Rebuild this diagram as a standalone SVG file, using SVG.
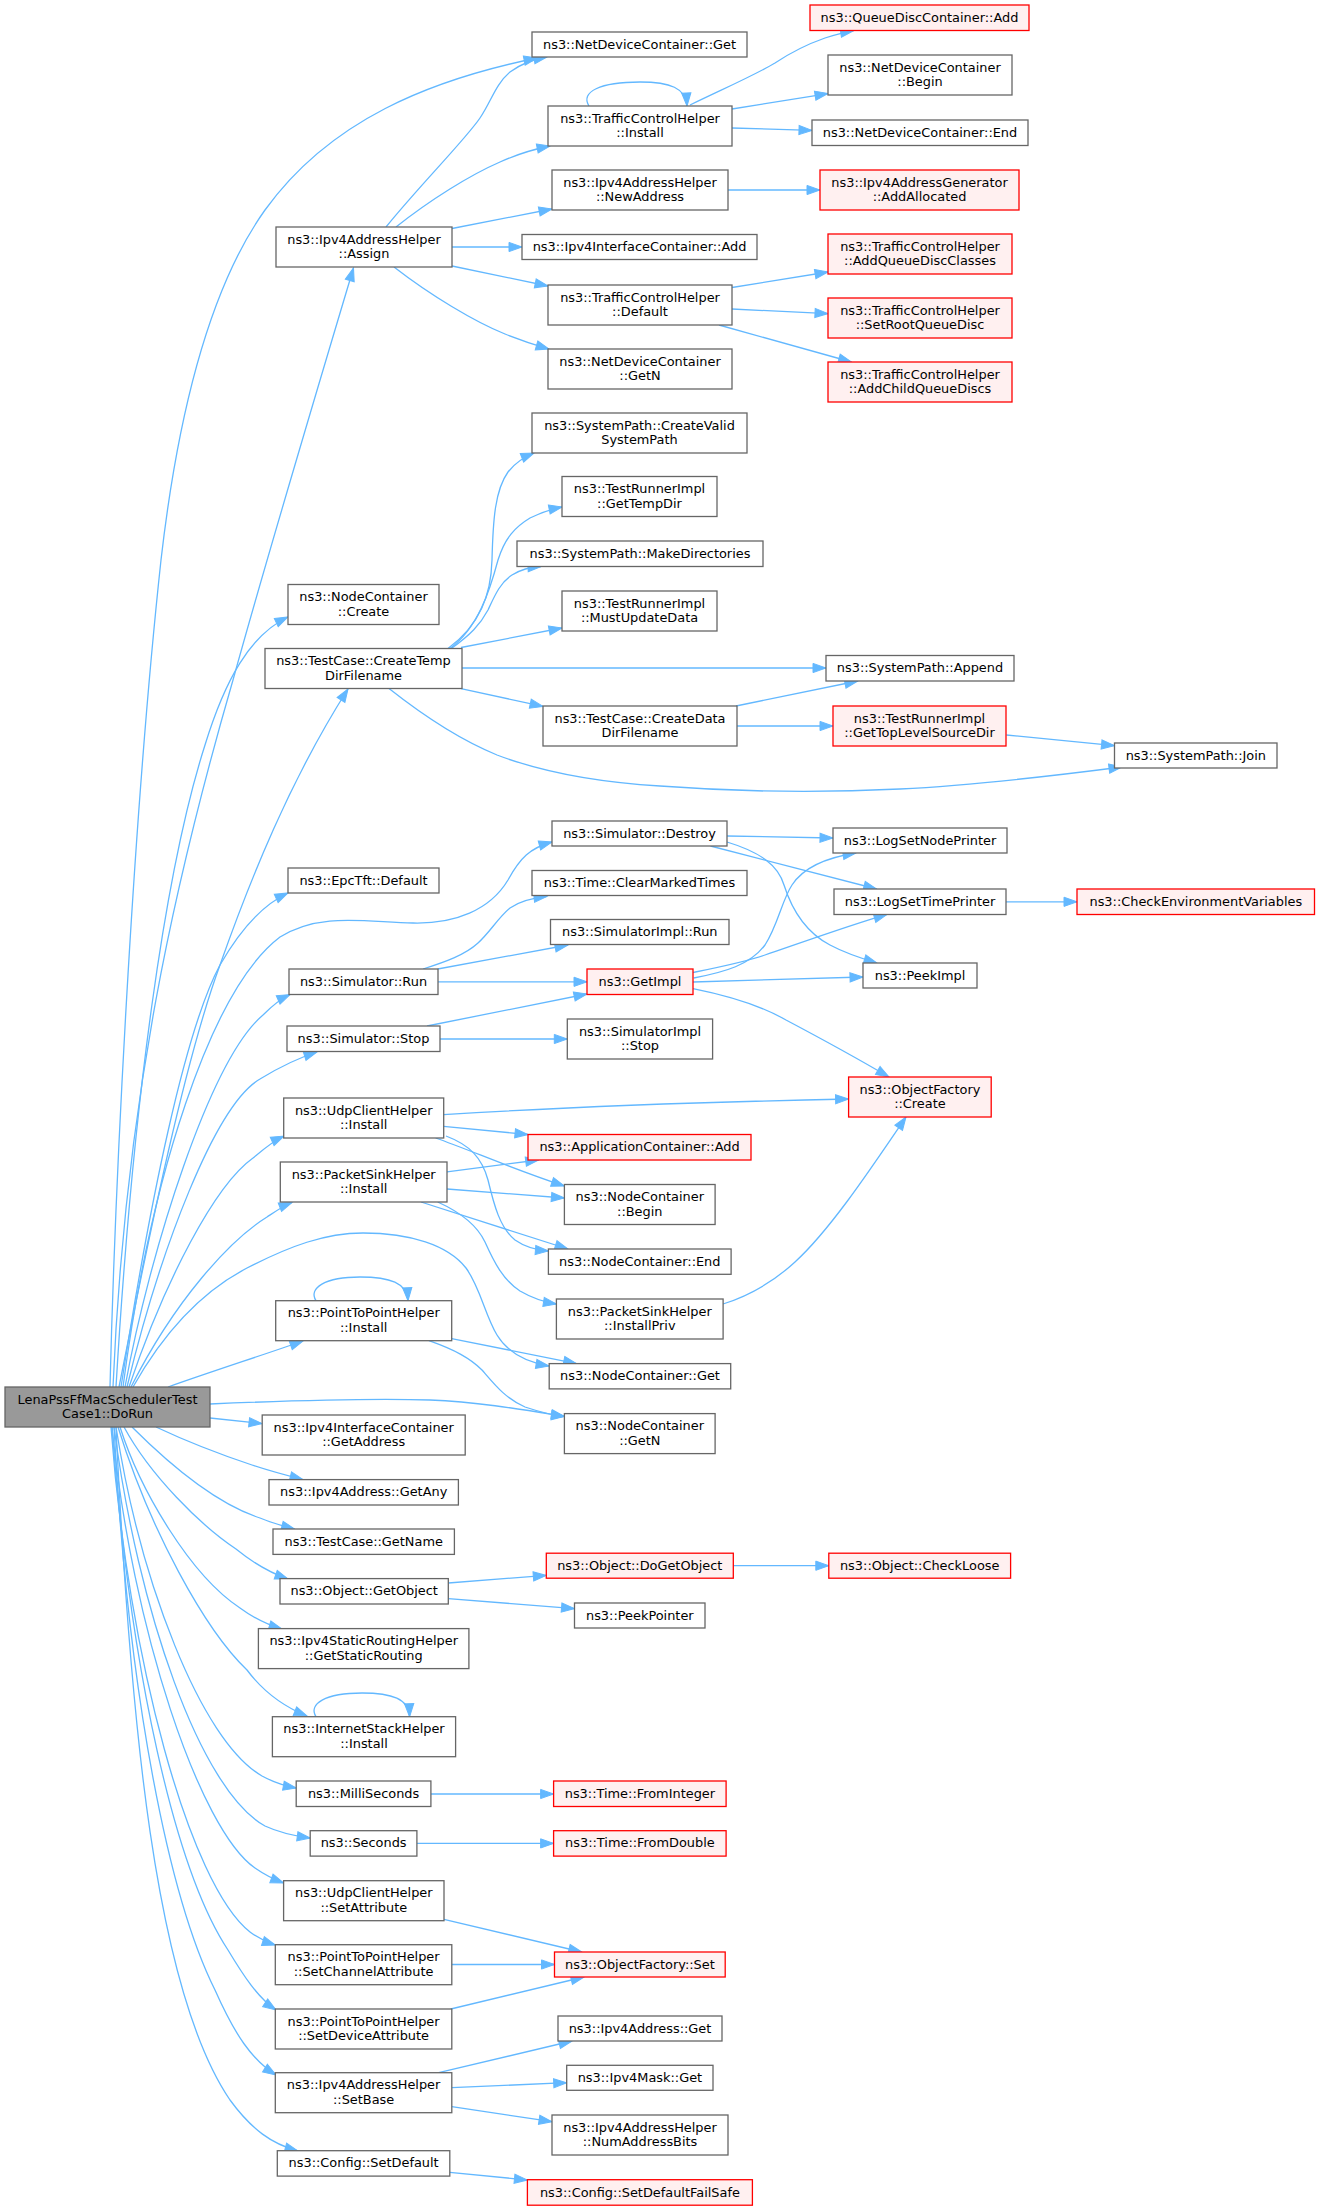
<svg xmlns="http://www.w3.org/2000/svg" width="1320" height="2211" viewBox="0 0 1320 2211">
<style>
.n rect{fill:#ffffff;stroke:#666666;stroke-width:1.3}
.r rect{fill:#fff0f0;stroke:#ff0000;stroke-width:1.3}
.m rect{fill:#999999;stroke:#666666;stroke-width:1.3}
text{font-family:"DejaVu Sans",sans-serif;font-size:12.9px;text-anchor:middle;fill:#000000}
.e path{fill:none;stroke:#63b8ff;stroke-width:1.3;marker-end:url(#a)}
</style>
<defs>
<marker id="a" markerUnits="userSpaceOnUse" markerWidth="13" markerHeight="10" refX="13" refY="5" orient="auto" overflow="visible">
<path d="M0,0.4 L13,5 L0,9.6 Z" fill="#63b8ff" stroke="#63b8ff" stroke-width="1"/>
</marker>
</defs>
<rect width="1320" height="2211" fill="#ffffff"/>
<g id="edges" class="e">
<path d="M110,1387 C116,1150 135,800 161,560 C180,395 215,280 265,210 C330,120 430,80 537,58"/>
<path d="M113,1387 C125,1100 175,880 233,680 C262,575 305,430 353.5,268"/>
<path d="M116,1387 C133,1100 165,870 205,745 C225,680 250,635 288,617"/>
<path d="M119,1387 C150,1230 185,1060 220,965 C250,880 290,780 348,689"/>
<path d="M121,1387 C150,1200 185,1030 220,965 C240,930 262,905 288,893"/>
<path d="M123,1387 C150,1180 210,990 280,937 C320,912 365,922 413,923 C455,924 490,910 508,880 C520,858 530,848 552,842"/>
<path d="M125,1387 C150,1250 210,1060 263,1015 C272,1006 280,999 290,994.5"/>
<path d="M127,1387 C160,1250 215,1105 260,1079 C283,1065 298,1058 317,1052"/>
<path d="M129,1387 C165,1280 215,1185 253,1158 C265,1148 273,1141 284,1136"/>
<path d="M131,1387 C175,1300 230,1240 267,1217 C276,1211 283,1206 292,1202.5"/>
<path d="M133,1387 C165,1330 205,1290 247,1268 C290,1246 325,1233 363,1233 C410,1233 448,1245 466,1268 C480,1287 485,1315 497,1335 C508,1353 525,1362 549,1366"/>
<path d="M168,1387 C210,1372 260,1356 303,1341"/>
<path d="M210,1404 C280,1401 370,1398 430,1400 C480,1402 525,1410 564.4,1416.4"/>
<path d="M210,1418 L262,1423.6"/>
<path d="M156,1427 C190,1443 225,1456 252,1465 C270,1471 285,1475 303,1479.6"/>
<path d="M132,1427 C175,1470 220,1505 260,1518 C272,1523 283,1526 294.6,1529"/>
<path d="M124,1427 C150,1475 200,1525 236,1549 C252,1562 268,1572 288,1579"/>
<path d="M120,1427 C140,1490 190,1575 240,1608 C255,1619 268,1625 282,1629"/>
<path d="M118,1427 C150,1530 205,1630 247,1670 C262,1690 282,1706 307,1716"/>
<path d="M116,1427 C140,1580 200,1740 262,1776 C275,1783 285,1786 296.2,1788"/>
<path d="M114,1427 C138,1610 200,1790 265,1826 C280,1833 295,1836 310.2,1838"/>
<path d="M112,1427 C132,1630 200,1830 255,1868 C265,1875 273,1879 283.6,1883"/>
<path d="M111,1427 C128,1660 190,1885 250,1932 C258,1938 266,1942 275.3,1945"/>
<path d="M112,1427 C130,1670 175,1870 228,1950 C243,1975 258,1998 276,2010"/>
<path d="M114,1427 C128,1700 170,1900 215,1990 C235,2035 252,2060 276,2075"/>
<path d="M116,1427 C130,1720 155,1990 230,2100 C252,2130 272,2144 298,2151"/>
<path d="M386,227 C420,185 465,140 480,118 C492,100 495,85 510,72 C522,63 535,59 547,57"/>
<path d="M396,227 C430,200 470,175 500,162 C520,153 535,149 550,146"/>
<path d="M452,228.5 L552,209"/>
<path d="M452,247 L522,247"/>
<path d="M452,266 L548,286"/>
<path d="M394,267 C430,295 475,322 505,334 C520,340 535,345 549,349"/>
<path d="M589,106 C580,92 600,82 640,82 C670,82 686,88 687,106"/>
<path d="M690,105 C725,88 755,75 775,63 C790,53 805,45 825,38 C835,35 845,32 853.6,30.7"/>
<path d="M732,109 L828,93.6"/>
<path d="M732,128 L812,130.4"/>
<path d="M728,190 L820,190"/>
<path d="M732,287.5 L828,272"/>
<path d="M732,309 L828,313.6"/>
<path d="M719,325 L851.5,362"/>
<path d="M448,648.6 C480,625 491,595 492,560 C493,520 495,490 508,472 C515,463 524,457 534,453"/>
<path d="M450,648.6 C478,628 490,590 498,560 C505,538 515,527 530,518 C542,512 552,509 562,507"/>
<path d="M452,648 C470,635 480,625 488,610 C495,595 500,583 512,575 C520,570 530,567 541,566.5"/>
<path d="M461,647.5 L562,628"/>
<path d="M462,668 L826,668"/>
<path d="M461,688.6 L543,706.4"/>
<path d="M389,688.6 C425,717 460,740 497,755 C550,775 610,783 660,786 C740,792 820,793 900,789 C980,785 1060,775 1122,767"/>
<path d="M736,706 L857.8,681"/>
<path d="M737,726 L833,726"/>
<path d="M1006.4,735 L1114.5,745.7"/>
<path d="M727,836 L833,838"/>
<path d="M710.5,846 L876.7,889"/>
<path d="M727,842 C760,852 778,865 784,885 C792,910 805,932 830,945 C845,953 860,958 877,963"/>
<path d="M1006,901.8 L1077,901.8"/>
<path d="M423,969 C445,962 465,955 478,943 C490,932 498,918 510,908 C520,901 532,898 547,896.4"/>
<path d="M437.7,969 L568,945"/>
<path d="M438,981.8 L587,981.8"/>
<path d="M693.7,978 C725,972 750,965 765,945 C778,925 782,900 792,885 C805,865 830,857 856,853"/>
<path d="M693,972.5 C720,967 745,962 765,955 C800,943 850,925 887,914.3"/>
<path d="M693,982 L863,977"/>
<path d="M693,988.6 C730,996 760,1005 786,1020 C820,1038 860,1060 889,1077"/>
<path d="M427,1026 L587,994"/>
<path d="M440,1039 L567.3,1039"/>
<path d="M443.6,1114.6 C550,1108 700,1102 848.6,1099"/>
<path d="M443.6,1126.4 L528,1134.5"/>
<path d="M435.6,1138 C470,1150 510,1168 564.4,1186"/>
<path d="M446,1136 C470,1145 482,1158 488,1180 C494,1205 500,1228 515,1240 C525,1247 535,1250 548.4,1251"/>
<path d="M447,1171.8 L538.7,1160"/>
<path d="M447,1189 L564.4,1198"/>
<path d="M421,1202 L568,1249"/>
<path d="M437.7,1202 C462,1213 477,1225 485,1242 C494,1262 503,1280 520,1291 C532,1298 544,1302 556.4,1304"/>
<path d="M723,1304 C745,1297 770,1285 795,1262 C830,1230 870,1170 906,1117"/>
<path d="M316,1300.7 C308,1288 325,1277 360,1277 C390,1277 407,1283 408,1300.7"/>
<path d="M451.7,1338.6 L576.6,1363.6"/>
<path d="M429,1340.7 C455,1350 470,1358 482,1370 C495,1385 505,1398 525,1407 C540,1412 550,1415 564.4,1416.4"/>
<path d="M448.3,1583 L546.3,1575.4"/>
<path d="M448.3,1598.6 L574.5,1608.6"/>
<path d="M733.3,1565.7 L828.8,1565.7"/>
<path d="M316,1716.7 C308,1704 325,1693 362,1693 C392,1693 409,1699 409.6,1716.7"/>
<path d="M430.9,1794 L553.6,1794"/>
<path d="M416.9,1843.4 L553.6,1843.4"/>
<path d="M444,1919.3 L581.7,1952"/>
<path d="M451.8,1964.5 L554.5,1964.5"/>
<path d="M450.8,2009 L584,1977"/>
<path d="M438.7,2072.7 L572,2041"/>
<path d="M451.8,2087.7 L566.7,2082.7"/>
<path d="M451.8,2106.7 L552,2121.7"/>
<path d="M449.8,2172.3 L527.4,2180"/>
</g>
<g id="n_main" class="m"><rect x="5" y="1387" width="205" height="40"/><text x="107.5" y="1403.5">LenaPssFfMacSchedulerTest</text><text x="107.5" y="1418">Case1::DoRun</text></g>
<g id="n_ndc_get" class="n"><rect x="532" y="32" width="215" height="25"/><text x="639.5" y="48.5">ns3::NetDeviceContainer::Get</text></g>
<g id="n_assign" class="n"><rect x="276" y="227" width="176" height="40"/><text x="364" y="243.5">ns3::Ipv4AddressHelper</text><text x="364" y="258">::Assign</text></g>
<g id="n_tch_install" class="n"><rect x="548" y="106" width="184" height="40"/><text x="640" y="122.5">ns3::TrafficControlHelper</text><text x="640" y="137">::Install</text></g>
<g id="n_newaddr" class="n"><rect x="552" y="170" width="176" height="40"/><text x="640" y="186.5">ns3::Ipv4AddressHelper</text><text x="640" y="201">::NewAddress</text></g>
<g id="n_iic_add" class="n"><rect x="522" y="234.5" width="235" height="25"/><text x="639.5" y="251">ns3::Ipv4InterfaceContainer::Add</text></g>
<g id="n_tch_default" class="n"><rect x="548" y="285" width="184" height="40"/><text x="640" y="301.5">ns3::TrafficControlHelper</text><text x="640" y="316">::Default</text></g>
<g id="n_ndc_getn" class="n"><rect x="548" y="349" width="184" height="40"/><text x="640" y="365.5">ns3::NetDeviceContainer</text><text x="640" y="380">::GetN</text></g>
<g id="n_qdc_add" class="r"><rect x="810" y="5" width="219" height="25.5"/><text x="919.5" y="21.8">ns3::QueueDiscContainer::Add</text></g>
<g id="n_ndc_begin" class="n"><rect x="828" y="55" width="184" height="40"/><text x="920" y="71.5">ns3::NetDeviceContainer</text><text x="920" y="86">::Begin</text></g>
<g id="n_ndc_end" class="n"><rect x="812" y="120" width="216" height="25.5"/><text x="920" y="136.8">ns3::NetDeviceContainer::End</text></g>
<g id="n_addalloc" class="r"><rect x="820" y="170" width="199" height="40"/><text x="919.5" y="186.5">ns3::Ipv4AddressGenerator</text><text x="919.5" y="201">::AddAllocated</text></g>
<g id="n_addqdclasses" class="r"><rect x="828" y="234" width="184" height="40"/><text x="920" y="250.5">ns3::TrafficControlHelper</text><text x="920" y="265">::AddQueueDiscClasses</text></g>
<g id="n_setroot" class="r"><rect x="828" y="298" width="184" height="40"/><text x="920" y="314.5">ns3::TrafficControlHelper</text><text x="920" y="329">::SetRootQueueDisc</text></g>
<g id="n_addchild" class="r"><rect x="828" y="362" width="184" height="40"/><text x="920" y="378.5">ns3::TrafficControlHelper</text><text x="920" y="393">::AddChildQueueDiscs</text></g>
<g id="n_createvalid" class="n"><rect x="532" y="413" width="215" height="40"/><text x="639.5" y="429.5">ns3::SystemPath::CreateValid</text><text x="639.5" y="444">SystemPath</text></g>
<g id="n_gettempdir" class="n"><rect x="562" y="476.5" width="155" height="40"/><text x="639.5" y="493">ns3::TestRunnerImpl</text><text x="639.5" y="507.5">::GetTempDir</text></g>
<g id="n_makedirs" class="n"><rect x="517" y="541" width="246" height="25.5"/><text x="640" y="557.8">ns3::SystemPath::MakeDirectories</text></g>
<g id="n_mustupdate" class="n"><rect x="562" y="591" width="155" height="40"/><text x="639.5" y="607.5">ns3::TestRunnerImpl</text><text x="639.5" y="622">::MustUpdateData</text></g>
<g id="n_nc_create" class="n"><rect x="288" y="584.5" width="151" height="40"/><text x="363.5" y="601">ns3::NodeContainer</text><text x="363.5" y="615.5">::Create</text></g>
<g id="n_createtemp" class="n"><rect x="265" y="648.5" width="197" height="40"/><text x="363.5" y="665">ns3::TestCase::CreateTemp</text><text x="363.5" y="679.5">DirFilename</text></g>
<g id="n_append" class="n"><rect x="826" y="655.5" width="188" height="25.5"/><text x="920" y="672.3">ns3::SystemPath::Append</text></g>
<g id="n_createdata" class="n"><rect x="543" y="706" width="194" height="40"/><text x="640" y="722.5">ns3::TestCase::CreateData</text><text x="640" y="737">DirFilename</text></g>
<g id="n_toplevel" class="r"><rect x="833" y="706" width="173" height="40"/><text x="919.5" y="722.5">ns3::TestRunnerImpl</text><text x="919.5" y="737">::GetTopLevelSourceDir</text></g>
<g id="n_join" class="n"><rect x="1114.5" y="743" width="162.5" height="25"/><text x="1195.8" y="759.5">ns3::SystemPath::Join</text></g>
<g id="n_destroy" class="n"><rect x="552" y="821" width="175" height="25"/><text x="639.5" y="837.5">ns3::Simulator::Destroy</text></g>
<g id="n_epctft" class="n"><rect x="288" y="868" width="151" height="25"/><text x="363.5" y="884.5">ns3::EpcTft::Default</text></g>
<g id="n_clearmarked" class="n"><rect x="532" y="870.5" width="215" height="25"/><text x="639.5" y="887">ns3::Time::ClearMarkedTimes</text></g>
<g id="n_lognode" class="n"><rect x="833" y="828" width="174" height="25"/><text x="920" y="844.5">ns3::LogSetNodePrinter</text></g>
<g id="n_logtime" class="n"><rect x="834" y="889" width="172" height="25.5"/><text x="920" y="905.8">ns3::LogSetTimePrinter</text></g>
<g id="n_checkenv" class="r"><rect x="1077" y="889" width="237.5" height="25.5"/><text x="1195.8" y="905.8">ns3::CheckEnvironmentVariables</text></g>
<g id="n_simimpl_run" class="n"><rect x="550.5" y="919.5" width="178.5" height="25"/><text x="639.8" y="936">ns3::SimulatorImpl::Run</text></g>
<g id="n_sim_run" class="n"><rect x="289" y="969" width="149" height="25.5"/><text x="363.5" y="985.8">ns3::Simulator::Run</text></g>
<g id="n_getimpl" class="r"><rect x="587" y="969" width="106" height="25.5"/><text x="640" y="985.8">ns3::GetImpl</text></g>
<g id="n_peekimpl" class="n"><rect x="863" y="963" width="114" height="25"/><text x="920" y="979.5">ns3::PeekImpl</text></g>
<g id="n_sim_stop" class="n"><rect x="287" y="1026" width="153" height="25.5"/><text x="363.5" y="1042.8">ns3::Simulator::Stop</text></g>
<g id="n_simimpl_stop" class="n"><rect x="567.3" y="1019" width="145.3" height="40"/><text x="640" y="1035.5">ns3::SimulatorImpl</text><text x="640" y="1050">::Stop</text></g>
<g id="n_udp_install" class="n"><rect x="283.7" y="1098" width="160" height="40"/><text x="363.7" y="1114.5">ns3::UdpClientHelper</text><text x="363.7" y="1129">::Install</text></g>
<g id="n_of_create" class="r"><rect x="848.6" y="1077" width="142.6" height="40"/><text x="919.9" y="1093.5">ns3::ObjectFactory</text><text x="919.9" y="1108">::Create</text></g>
<g id="n_appc_add" class="r"><rect x="528" y="1134.5" width="223" height="25.5"/><text x="639.5" y="1151.3">ns3::ApplicationContainer::Add</text></g>
<g id="n_psh_install" class="n"><rect x="280.3" y="1162" width="166.7" height="40"/><text x="363.7" y="1178.5">ns3::PacketSinkHelper</text><text x="363.7" y="1193">::Install</text></g>
<g id="n_nc_begin" class="n"><rect x="564.4" y="1184.5" width="150.7" height="40"/><text x="639.8" y="1201">ns3::NodeContainer</text><text x="639.8" y="1215.5">::Begin</text></g>
<g id="n_nc_end" class="n"><rect x="548.4" y="1249" width="182.7" height="25.3"/><text x="639.8" y="1265.7">ns3::NodeContainer::End</text></g>
<g id="n_installpriv" class="n"><rect x="556.4" y="1299" width="166.7" height="40"/><text x="639.8" y="1315.5">ns3::PacketSinkHelper</text><text x="639.8" y="1330">::InstallPriv</text></g>
<g id="n_p2p_install" class="n"><rect x="275.7" y="1300.7" width="176" height="40"/><text x="363.7" y="1317.2">ns3::PointToPointHelper</text><text x="363.7" y="1331.7">::Install</text></g>
<g id="n_nc_get" class="n"><rect x="549.2" y="1363.6" width="181.5" height="25.3"/><text x="640" y="1380.3">ns3::NodeContainer::Get</text></g>
<g id="n_nc_getn" class="n"><rect x="564.4" y="1413.6" width="150.7" height="40"/><text x="639.8" y="1430.1">ns3::NodeContainer</text><text x="639.8" y="1444.6">::GetN</text></g>
<g id="n_getaddress" class="n"><rect x="262.2" y="1415" width="203" height="40"/><text x="363.7" y="1431.5">ns3::Ipv4InterfaceContainer</text><text x="363.7" y="1446">::GetAddress</text></g>
<g id="n_getany" class="n"><rect x="269" y="1479.6" width="189.4" height="25.4"/><text x="363.7" y="1496.3">ns3::Ipv4Address::GetAny</text></g>
<g id="n_getname" class="n"><rect x="273" y="1529" width="181.4" height="25.4"/><text x="363.7" y="1545.7">ns3::TestCase::GetName</text></g>
<g id="n_getobject" class="n"><rect x="280" y="1578.6" width="168.3" height="25.4"/><text x="364.2" y="1595.3">ns3::Object::GetObject</text></g>
<g id="n_dogetobject" class="r"><rect x="546.3" y="1553.2" width="187" height="25"/><text x="639.8" y="1569.7">ns3::Object::DoGetObject</text></g>
<g id="n_checkloose" class="r"><rect x="828.8" y="1553.2" width="181.8" height="25"/><text x="919.7" y="1569.7">ns3::Object::CheckLoose</text></g>
<g id="n_peekpointer" class="n"><rect x="574.5" y="1603" width="130.5" height="25"/><text x="639.8" y="1619.5">ns3::PeekPointer</text></g>
<g id="n_getstatic" class="n"><rect x="258.4" y="1628.6" width="210.5" height="40"/><text x="363.7" y="1645.1">ns3::Ipv4StaticRoutingHelper</text><text x="363.7" y="1659.6">::GetStaticRouting</text></g>
<g id="n_internet" class="n"><rect x="272.4" y="1716.7" width="183.2" height="40"/><text x="364" y="1733.2">ns3::InternetStackHelper</text><text x="364" y="1747.7">::Install</text></g>
<g id="n_milli" class="n"><rect x="296.2" y="1781" width="134.7" height="25.5"/><text x="363.6" y="1797.8">ns3::MilliSeconds</text></g>
<g id="n_fromint" class="r"><rect x="553.6" y="1781" width="172.5" height="25.5"/><text x="639.9" y="1797.8">ns3::Time::FromInteger</text></g>
<g id="n_seconds" class="n"><rect x="310.2" y="1830.7" width="106.7" height="25.4"/><text x="363.6" y="1847.4">ns3::Seconds</text></g>
<g id="n_fromdouble" class="r"><rect x="553.6" y="1830.7" width="172.5" height="25.4"/><text x="639.9" y="1847.4">ns3::Time::FromDouble</text></g>
<g id="n_udp_setattr" class="n"><rect x="283.6" y="1880.7" width="160.4" height="40"/><text x="363.8" y="1897.2">ns3::UdpClientHelper</text><text x="363.8" y="1911.7">::SetAttribute</text></g>
<g id="n_setchannel" class="n"><rect x="275.3" y="1944.7" width="176.5" height="40"/><text x="363.6" y="1961.2">ns3::PointToPointHelper</text><text x="363.6" y="1975.7">::SetChannelAttribute</text></g>
<g id="n_of_set" class="r"><rect x="554.5" y="1952" width="170.7" height="25"/><text x="639.9" y="1968.5">ns3::ObjectFactory::Set</text></g>
<g id="n_setdevice" class="n"><rect x="275.3" y="2009" width="176.5" height="40"/><text x="363.6" y="2025.5">ns3::PointToPointHelper</text><text x="363.6" y="2040">::SetDeviceAttribute</text></g>
<g id="n_ipv4addr_get" class="n"><rect x="558" y="2016" width="164" height="25"/><text x="640" y="2032.5">ns3::Ipv4Address::Get</text></g>
<g id="n_mask_get" class="n"><rect x="566.7" y="2065.3" width="146.3" height="25"/><text x="639.9" y="2081.8">ns3::Ipv4Mask::Get</text></g>
<g id="n_setbase" class="n"><rect x="275.3" y="2072.7" width="176.5" height="40"/><text x="363.6" y="2089.2">ns3::Ipv4AddressHelper</text><text x="363.6" y="2103.7">::SetBase</text></g>
<g id="n_numbits" class="n"><rect x="552" y="2115" width="176" height="40"/><text x="640" y="2131.5">ns3::Ipv4AddressHelper</text><text x="640" y="2146">::NumAddressBits</text></g>
<g id="n_setdefault" class="n"><rect x="277.3" y="2150.7" width="172.5" height="25.4"/><text x="363.6" y="2167.4">ns3::Config::SetDefault</text></g>
<g id="n_failsafe" class="r"><rect x="527.4" y="2179.7" width="225" height="25.5"/><text x="639.9" y="2196.5">ns3::Config::SetDefaultFailSafe</text></g>
</svg>
